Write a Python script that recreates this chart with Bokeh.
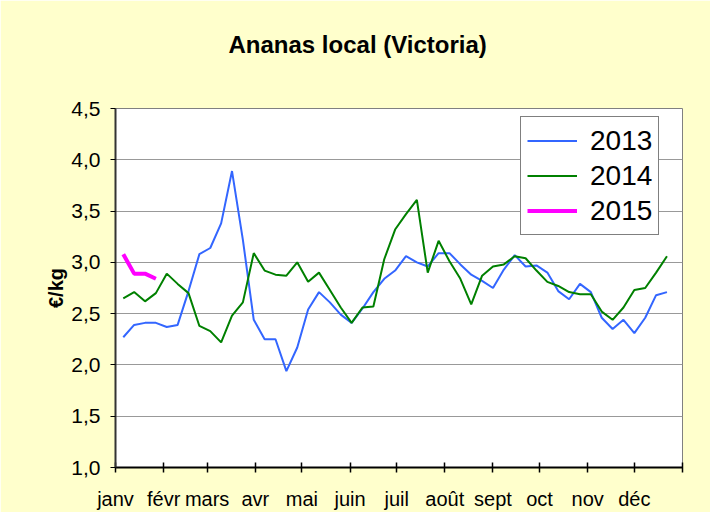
from bokeh.plotting import figure
from bokeh.models import Range1d, FixedTicker, Legend, LegendItem, Title
from bokeh.embed import file_html
from bokeh.resources import INLINE

# ---- data ----
month_labels = ["janv", "févr", "mars", "avr", "mai", "juin", "juil", "août",
                "sept", "oct", "nov", "déc"]
month_days = [31, 28, 31, 30, 31, 30, 31, 31, 30, 31, 30, 31]
weeks = list(range(51))          # weekly observations, first on 6 January
first_day = 5                    # day of year (0 = 1 January)

v2013 = [2.27, 2.39, 2.41, 2.41, 2.37, 2.39, 2.72, 3.08, 3.14, 3.38,
         3.89, 3.22, 2.44, 2.25, 2.25, 1.94, 2.17, 2.54, 2.71, 2.61,
         2.49, 2.41, 2.55, 2.71, 2.84, 2.92, 3.06, 3.00, 2.96, 3.09,
         3.09, 2.98, 2.88, 2.82, 2.75, 2.93, 3.07, 2.96, 2.97, 2.90,
         2.72, 2.64, 2.79, 2.71, 2.46, 2.35, 2.44, 2.31, 2.46, 2.68, 2.71]
v2014 = [2.65, 2.71, 2.62, 2.70, 2.89, 2.79, 2.70, 2.38, 2.33, 2.22,
         2.48, 2.61, 3.09, 2.92, 2.88, 2.87, 3.00, 2.81, 2.90, 2.73,
         2.56, 2.41, 2.56, 2.57, 3.03, 3.32, 3.47, 3.61, 2.90, 3.21,
         3.01, 2.84, 2.59, 2.87, 2.96, 2.98, 3.06, 3.04, 2.92, 2.81,
         2.77, 2.71, 2.69, 2.69, 2.52, 2.44, 2.56, 2.73, 2.75, 2.90, 3.06]
v2015 = [3.08, 2.89, 2.89, 2.84]

y_ticks = [1.0, 1.5, 2.0, 2.5, 3.0, 3.5, 4.0, 4.5]

# ---- derived positions ----
days = [first_day + 7 * w for w in weeks]
bounds = [0]
for d in month_days:
    bounds.append(bounds[-1] + d)

FONT = "Liberation Sans"
YELLOW = "#FFFFCC"

p = figure(width=710, height=512, output_backend="svg", toolbar_location=None,
           x_range=Range1d(0, bounds[-1]), y_range=Range1d(1.0, 4.5),
           min_border_left=115, min_border_right=28, min_border_top=108,
           min_border_bottom=45,
           background_fill_color="white", border_fill_color=YELLOW,
           outline_line_color="#808080", outline_line_width=1,
           styles={"box-shadow": "-1px -1px 0 0 black"})

# empty title used as a vertical gap between the frame and the real title
gap = Title(text=" ", text_font=FONT, text_font_size="10px", standoff=38)
p.add_layout(gap, "above")
title = Title(text="Ananas local (Victoria)", align="left", offset=113,
              text_font=FONT, text_font_size="24px", text_font_style="bold",
              text_color="black", standoff=0)
p.add_layout(title, "above")

r13 = p.line(days, v2013, line_color="#3366FF", line_width=2)
r14 = p.line(days[:len(v2014)], v2014, line_color="#008000", line_width=2)
r15 = p.line(days[:len(v2015)], v2015, line_color="#FF00FF", line_width=4)

# x axis
p.xaxis.ticker = FixedTicker(ticks=bounds)
overrides = {b: lab for b, lab in zip(bounds, month_labels)}
overrides[bounds[-1]] = ""
p.xaxis.major_label_overrides = overrides
p.xaxis.major_tick_in = 5
p.xaxis.major_tick_out = 5
p.xaxis.major_tick_line_color = "black"
p.xaxis.major_tick_line_width = 1.5
p.xaxis.minor_tick_line_color = None
p.xaxis.axis_line_color = "black"
p.xaxis.axis_line_width = 2
p.xaxis.major_label_text_font = FONT
p.xaxis.major_label_text_font_size = "20px"
p.xaxis.major_label_text_color = "black"
p.xaxis.major_label_standoff = 15
p.xgrid.grid_line_color = None

# y axis
p.yaxis.ticker = FixedTicker(ticks=y_ticks)
p.yaxis.major_label_overrides = {t: f"{t:.1f}".replace(".", ",") for t in y_ticks}
p.yaxis.major_tick_in = 0
p.yaxis.major_tick_out = 5
p.yaxis.major_tick_line_color = "black"
p.yaxis.minor_tick_line_color = None
p.yaxis.axis_line_color = "#333333"
p.yaxis.axis_line_width = 2
p.yaxis.major_label_text_font = FONT
p.yaxis.major_label_text_font_size = "21px"
p.yaxis.major_label_text_color = "black"
p.yaxis.major_label_standoff = 10
p.yaxis.axis_label = "€/kg"
p.yaxis.axis_label_text_font = FONT
p.yaxis.axis_label_text_font_size = "20px"
p.yaxis.axis_label_text_font_style = "bold"
p.yaxis.axis_label_text_color = "black"
p.yaxis.axis_label_standoff = 1
p.ygrid.grid_line_color = "#999999"
p.ygrid.grid_line_width = 1

legend = Legend(items=[LegendItem(label="2013", renderers=[r13]),
                       LegendItem(label="2014", renderers=[r14]),
                       LegendItem(label="2015", renderers=[r15])],
                location=(405, 232))
legend.label_text_font = FONT
legend.label_text_font_size = "28px"
legend.label_text_color = "black"
legend.glyph_width = 50
legend.label_height = 35
legend.glyph_height = 35
legend.spacing = 0
legend.padding = 6
legend.margin = 0
legend.label_standoff = 13
legend.border_line_color = "black"
legend.border_line_width = 1
legend.background_fill_color = "white"
legend.background_fill_alpha = 1
p.add_layout(legend)

open("out.html", "w").write(file_html(p, INLINE))
